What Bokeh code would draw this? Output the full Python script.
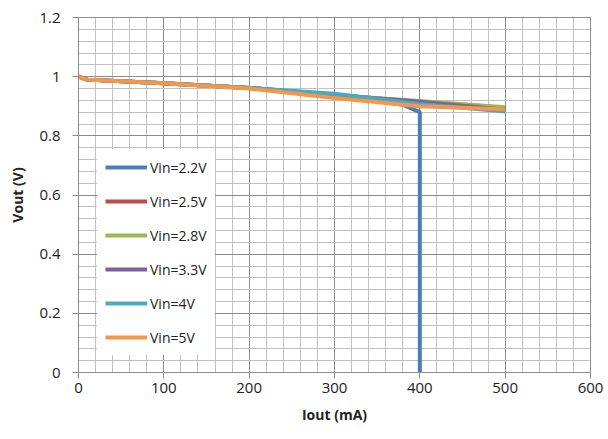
from bokeh.plotting import figure
from bokeh.models import FixedTicker, CustomJSTickFormatter, Legend, LegendItem, Range1d
from bokeh.embed import file_html
from bokeh.resources import INLINE

# Data (Iout in mA, Vout in V)
series_names = ["Vin=2.2V", "Vin=2.5V", "Vin=2.8V", "Vin=3.3V", "Vin=4V", "Vin=5V"]
x_22 = [0, 10, 100, 200, 300, 380, 400, 400]
y_22 = [1.0, 0.99, 0.978, 0.962, 0.937, 0.905, 0.88, 0.0]
x_common = [0, 10, 100, 200, 300, 400, 500]
y_25 = [1.0, 0.99, 0.978, 0.962, 0.937, 0.915, 0.89]
y_28 = [1.0, 0.99, 0.978, 0.962, 0.937, 0.918, 0.897]
y_33 = [1.0, 0.99, 0.978, 0.962, 0.938, 0.915, 0.888]
y_40 = [1.0, 0.99, 0.978, 0.962, 0.942, 0.908, 0.882]
y_50 = [1.0, 0.99, 0.978, 0.960, 0.928, 0.900, 0.89]

colors = ["#4A7EBB", "#BE4B48", "#98B954", "#7D60A0", "#46AAC5", "#F79646"]

x_ticks = [0, 100, 200, 300, 400, 500, 600]
y_ticks = [0, 0.2, 0.4, 0.6, 0.8, 1, 1.2]
x_minor = [i * 20 for i in range(31)]
y_minor = [round(i * 0.04, 2) for i in range(31)]

p = figure(width=608, height=439, output_backend="svg", toolbar_location=None,
           x_range=Range1d(0, 600), y_range=Range1d(0, 1.2),
           min_border_left=78, min_border_right=18, min_border_top=17, min_border_bottom=67)
p.background_fill_color = "white"
p.border_fill_color = "white"
p.outline_line_color = "#8c8c8c"
p.outline_line_width = 1

p.xaxis.ticker = FixedTicker(ticks=x_ticks, minor_ticks=x_minor)
p.yaxis.ticker = FixedTicker(ticks=y_ticks, minor_ticks=y_minor)
p.yaxis.formatter = CustomJSTickFormatter(code="return (Math.round(tick*10)/10).toString();")
p.xaxis.formatter = CustomJSTickFormatter(code="return Math.round(tick).toString();")

for ax in (p.xaxis[0], p.yaxis[0]):
    ax.axis_line_color = "#8c8c8c"
    ax.major_tick_line_color = "#8c8c8c"
    ax.major_tick_out = 6
    ax.major_tick_in = 0
    ax.minor_tick_out = 0
    ax.minor_tick_in = 0
    ax.major_label_text_font = "Open Sans"
    ax.major_label_text_font_size = "15px"
    ax.major_label_text_color = "#222222"
    ax.axis_label_text_font = "Open Sans"
    ax.axis_label_text_font_size = "14px"
    ax.axis_label_text_font_style = "bold"
    ax.axis_label_text_color = "#222222"

p.xaxis.axis_label = "Iout (mA)"
p.yaxis.axis_label = "Vout (V)"
p.yaxis.major_label_standoff = 12
p.xaxis.major_label_standoff = 4
p.xaxis.axis_label_standoff = 9
p.yaxis.axis_label_standoff = 9

p.xgrid.grid_line_color = "#8a8a8a"
p.ygrid.grid_line_color = "#8a8a8a"
p.xgrid.minor_grid_line_color = "#c0c0c0"
p.ygrid.minor_grid_line_color = "#c0c0c0"

ys = [y_25, y_28, y_33, y_40, y_50]
renderers = [p.line(x_22, y_22, line_color=colors[0], line_width=4)]
for yv, c in zip(ys, colors[1:]):
    renderers.append(p.line(x_common, yv, line_color=c, line_width=4))

legend = Legend(items=[LegendItem(label=n, renderers=[r]) for n, r in zip(series_names, renderers)],
                location=(19, 17))
legend.glyph_width = 42
legend.glyph_height = 20
legend.label_height = 20
legend.spacing = 14
legend.padding = 8
legend.margin = 0
legend.label_standoff = 3
legend.label_text_font = "Open Sans"
legend.label_text_font_size = "14px"
legend.label_text_color = "#222222"
legend.border_line_alpha = 0
legend.background_fill_color = "white"
legend.background_fill_alpha = 1
p.add_layout(legend, "center")

open("out.html", "w").write(file_html(p, INLINE))
